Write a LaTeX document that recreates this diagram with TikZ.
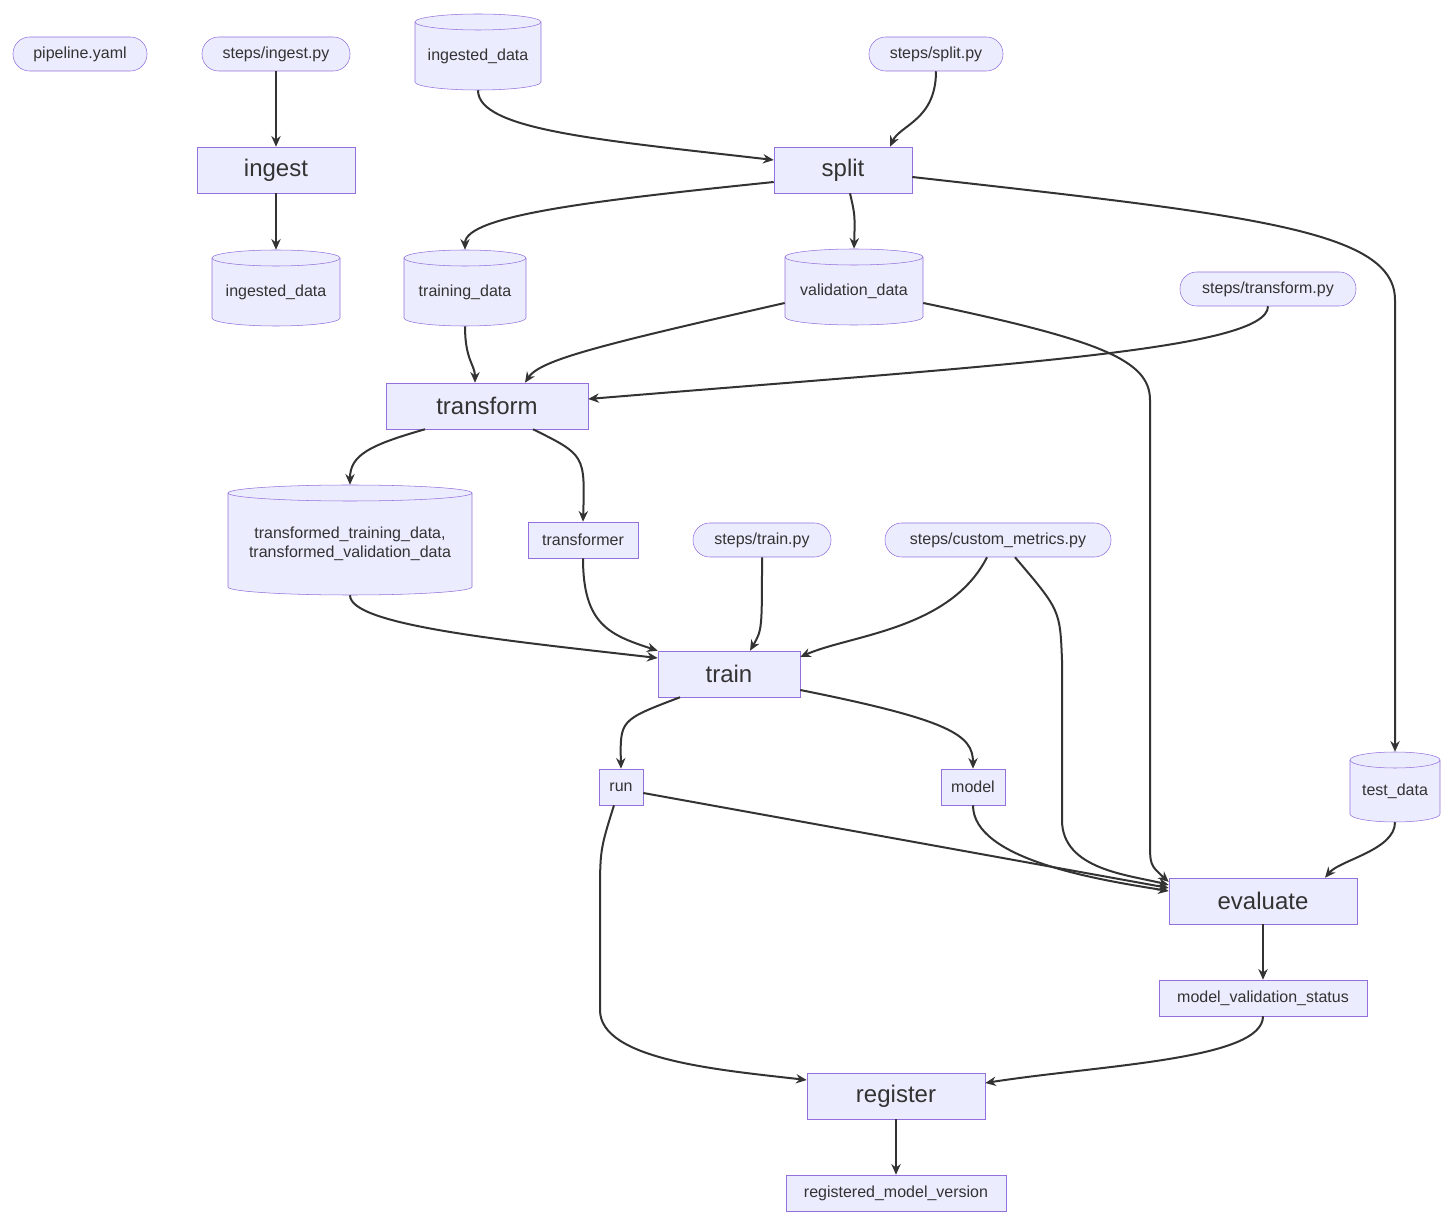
\documentclass[tikz,border=0pt]{standalone}
\usepackage{fontspec}
\setmainfont{Liberation Sans}
\usetikzlibrary{arrows.meta,calc}

\definecolor{pfill}{HTML}{ECECFF}
\definecolor{pline}{HTML}{9370DB}
\definecolor{eline}{HTML}{333333}

\tikzset{
  every node/.style={font=\fontsize{12}{14}\selectfont, text=eline},
  pill/.style={draw=pline, fill=pfill, rounded corners=12.5pt, minimum height=25.5pt, inner sep=0pt},
  art/.style={draw=pline, fill=pfill, minimum height=27pt, inner sep=0pt},
  db/.style={inner sep=0pt, align=center},
  proc/.style={draw=pline, fill=pfill, minimum height=34.5pt, inner sep=0pt, font=\fontsize{18}{20}\selectfont,
    append after command={[draw=pline] ([xshift=7.5pt]\tikzlastnode.north west) -- ([xshift=7.5pt]\tikzlastnode.south west)
      ([xshift=-7.5pt]\tikzlastnode.north east) -- ([xshift=-7.5pt]\tikzlastnode.south east)}},
  edge/.style={draw=eline, line width=1.5pt, -{Stealth[length=8pt,width=7pt]}}
}

% cylinder: name, x, y, width, height, text
\newcommand\dbnode[6]{%
  \filldraw[draw=pline, fill=pfill] (#2-#4/2,-#3+#5/2-8) -- (#2-#4/2,-#3-#5/2+8)
    arc[start angle=180, end angle=360, x radius=#4*0.375pt, y radius=6pt]
    -- (#2+#4/2,-#3+#5/2-8) arc[start angle=0, end angle=180, x radius=#4*0.375pt, y radius=6pt] -- cycle;
  \draw[pline] (#2-#4/2,-#3+#5/2-8) arc[start angle=180, end angle=360, x radius=#4*0.375pt, y radius=6pt];
  \node[db, minimum width=#4*0.75pt, minimum height=#5*0.75pt] (#1) at (#2,-#3) {};
  \node[db] at ([yshift=-3pt]#1.center) {#6};
}

\begin{document}
\begin{tikzpicture}[x=0.75pt,y=0.75pt]
\useasboundingbox (0,0) rectangle (1454,-1226);

% inputs
\node[pill, minimum width=100.5pt] (yaml) at (80,-54) {pipeline.yaml};
\node[pill, minimum width=111pt] (ingpy) at (276,-54) {steps/ingest.py};
\dbnode{rawdata}{478}{52}{126}{76}{ingested\_data}
\node[pill, minimum width=100.5pt] (splitpy) at (936,-54) {steps/split.py};

% steps
\node[proc, minimum width=118.5pt] (ingest) at (276,-170) {ingest};
\node[proc, minimum width=103.5pt] (split) at (843,-170) {split};

\dbnode{ingdata}{276}{288}{128}{76}{ingested\_data}
\dbnode{trdata}{465}{288}{122}{76}{training\_data}
\dbnode{valdata}{854}{287}{138}{76}{validation\_data}
\node[pill, minimum width=132pt] (trpy) at (1268,-289) {steps/transform.py};

\node[proc, minimum width=151.5pt] (transform) at (487,-406) {transform};

\dbnode{tfdata}{350}{540}{244}{110}{transformed\_training\_data,\\transformed\_validation\_data}
\node[art, minimum width=82.5pt] (transformer) at (583,-540) {transformer};
\node[pill, minimum width=103.5pt] (trainpy) at (762,-540) {steps/train.py};
\node[pill, minimum width=169.5pt] (metrics) at (998,-540) {steps/custom\_metrics.py};

\node[proc, minimum width=106.5pt] (train) at (729,-674) {train};

\node[art, minimum width=33pt] (run) at (621,-787) {run};
\node[art, minimum width=48pt] (model) at (973,-787) {model};
\dbnode{test}{1395}{787}{90}{70}{test\_data}

\node[proc, minimum width=141pt] (evaluate) at (1263,-901) {evaluate};
\node[art, minimum width=156pt] (mvs) at (1263,-998) {model\_validation\_status};
\node[proc, minimum width=133.5pt] (register) at (896,-1096) {register};
\node[art, minimum width=165pt] (rmv) at (896,-1193) {registered\_model\_version};

% connectors
\draw[edge] (ingpy) -- (ingest);
\draw[edge] (ingest) -- (ingdata);
\draw[edge] (rawdata.south) .. controls (478,-130) and (600,-140) .. ($(split.west)+(0,10)$);
\draw[edge] (splitpy.south) .. controls (936,-120) and (900,-125) .. ($(split.north)+(47,0)$);
\draw[edge] ($(split.west)+(0,-12)$) .. controls (600,-200) and (465,-215) .. (trdata.north);
\draw[edge] ($(split.south)+(7,0)$) .. controls (855,-215) .. (valdata.north);
\draw[edge] ($(split.east)+(0,-7)$) .. controls (1250,-215) and (1395,-230) .. (1395,-300) -- (test.north);
\draw[edge] (trdata.south) .. controls (465,-360) and (475,-365) .. ($(transform.north)+(-12,0)$);
\draw[edge] ($(valdata.west)+(0,-16)$) .. controls (600,-345) and (540,-360) .. ($(transform.north)+(38,0)$);
\draw[edge] (trpy.south) .. controls (1268,-350) and (1000,-365) .. ($(transform.east)+(0,7)$);
\draw[edge] ($(valdata.east)+(0,-16)$) .. controls (1100,-340) and (1150,-360) .. (1150,-400) -- (1150,-840) .. controls (1150,-865) .. ($(evaluate.west)+(0,19)$);
\draw[edge] ($(transform.south)+(-62,0)$) .. controls (370,-445) and (350,-455) .. (tfdata.north);
\draw[edge] ($(transform.south)+(46,0)$) .. controls (585,-455) .. (transformer.north);
\draw[edge] (tfdata.south) .. controls (350,-625) and (500,-640) .. ($(train.west)+(0,16)$);
\draw[edge] (transformer.south) .. controls (583,-625) and (610,-635) .. (train.north west);
\draw[edge] (trainpy.south) .. controls (762,-630) .. ($(train.north)+(21,0)$);
\draw[edge] ($(metrics.south)+(-11,0)$) .. controls (950,-630) and (850,-635) .. ($(train.east)+(0,17)$);
\draw[edge] ($(metrics.south)+(17,0)$) .. controls (1060,-610) .. (1062,-660) -- (1062,-820) .. controls (1062,-870) and (1130,-875) .. ($(evaluate.west)+(0,16)$);
\draw[edge] ($(train.south)+(-49,0)$) .. controls (620,-720) .. (run.north);
\draw[edge] ($(train.east)+(0,-16)$) .. controls (950,-720) and (973,-735) .. (model.north);
\draw[edge] ($(run.east)+(0,-6)$) -- ($(evaluate.west)+(0,13)$);
\draw[edge] (model.south) .. controls (973,-860) and (1100,-880) .. ($(evaluate.west)+(0,10)$);
\draw[edge] (test.south) .. controls (1395,-850) and (1340,-860) .. ($(evaluate.north)+(62,0)$);
\draw[edge] (evaluate) -- (mvs);
\draw[edge] ($(run.south)+(-7,0)$) .. controls (600,-850) .. (600,-900) -- (600,-1010) .. controls (600,-1060) and (720,-1070) .. ($(register.west)+(0,16)$);
\draw[edge] (mvs.south) .. controls (1263,-1060) and (1100,-1065) .. ($(register.east)+(0,13)$);
\draw[edge] (register) -- (rmv);
\end{tikzpicture}
\end{document}
